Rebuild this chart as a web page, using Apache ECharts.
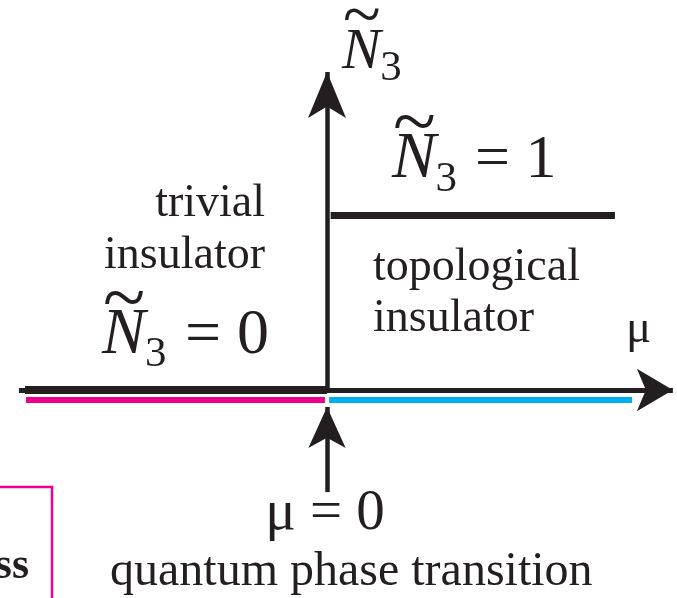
<!DOCTYPE html>
<html>
<head>
<meta charset="utf-8">
<script src="https://cdn.jsdelivr.net/npm/echarts@6/dist/echarts.min.js"></script>
<style>
  html, body { margin: 0; padding: 0; background: #fff; }
  #chart { width: 677px; height: 598px; }
</style>
</head>
<body>
<div id="chart"></div>
<script>
// Phase diagram of the invariant Ñ3 versus chemical potential μ.
// Step function: Ñ3 = 0 for μ < 0 (trivial), Ñ3 = 1 for μ > 0 (topological).
const stepMu   = [[-0.99, 0.0], [0.012, 0.944]];   // μ span of each plateau
const stepN3   = [0, 1];                           // plateau values
// Phase bands drawn just under the μ axis
const bandMu    = [[-0.987, -0.007], [0.007, 1.0]];
const bandNames = ['trivial', 'topological'];
const bandLevel = -0.057;
// Axes and the transition marker (start, arrow tip)
const muAxisSpan     = [-1.01, 1.134];   // along μ at Ñ3 = 0
const n3AxisSpan     = [0, 1.822];       // along Ñ3 at μ = 0
const transitionSpan = [-0.585, -0.097]; // along Ñ3 at μ = 0

const INK = '#231f20';
const MAGENTA = '#ec008c';
const CYAN = '#00aeef';
const SERIF = '"Liberation Serif", "Times New Roman", serif';

const chart = echarts.init(document.getElementById('chart'), null, { renderer: 'canvas' });

function seg(a, b, width, color) {
  return { coords: [a, b], lineStyle: { width: width, color: color, opacity: 1 } };
}
// arrow head only at the end: [start size, [width, length] of end]
function arrowed(item, w, h) {
  item.symbol = ['none', 'arrow'];
  item.symbolSize = [0, [w, h]];
  return item;
}

const option = {
  animation: false,
  backgroundColor: '#fff',
  grid: { left: 0, right: 0, top: 0, bottom: 0 },
  xAxis: { type: 'value', min: -1.0721, max: 1.1475, show: false },
  yAxis: { type: 'value', min: -1.1920, max: 2.2350, show: false },
  series: [
    {
      name: 'phase bands',
      type: 'lines',
      coordinateSystem: 'cartesian2d',
      symbol: 'none',
      lineStyle: { opacity: 1, cap: 'butt' },
      z: 1,
      data: bandMu.map((s, i) => seg([s[0], bandLevel], [s[1], bandLevel], 6, i === 0 ? MAGENTA : CYAN))
    },
    {
      name: 'Ñ3 step',
      type: 'lines',
      coordinateSystem: 'cartesian2d',
      symbol: 'none',
      lineStyle: { opacity: 1 },
      z: 3,
      data: stepMu.map((s, i) => seg([s[0], stepN3[i]], [s[1], stepN3[i]], i === 0 ? 8 : 7, INK))
    },
    {
      name: 'axes',
      type: 'lines',
      coordinateSystem: 'cartesian2d',
      symbol: ['none', 'arrow'],
      lineStyle: { opacity: 1 },
      z: 4,
      data: [
        arrowed(seg([muAxisSpan[0], 0], [muAxisSpan[1], 0], 5, INK), 32, 36),
        arrowed(seg([0, n3AxisSpan[0]], [0, n3AxisSpan[1]], 4.5, INK), 28.5, 46),
        arrowed(seg([0, transitionSpan[0]], [0, transitionSpan[1]], 4.5, INK), 28, 41)
      ]
    }
  ]
};
chart.setOption(option);

// ---- text ----
function txt(x, baseline, str, size, extra) {
  const o = Object.assign({ align: 'left', italic: false, bold: false }, extra || {});
  return {
    type: 'text', x: x, y: baseline - 0.3 * size, z: 10,
    style: {
      text: str,
      font: (o.italic ? 'italic ' : '') + (o.bold ? 'bold ' : '') + size + 'px ' + SERIF,
      fill: INK,
      align: o.align,
      verticalAlign: 'middle'
    }
  };
}

// Ñ with subscript 3, optional "= v" after it; k sets the tilde height above the baseline
function n3Label(x, baseline, size, subSize, k, rest, restX, restSize) {
  const ts = 1.2 * size;
  const els = [
    txt(x, baseline, 'N', size, { italic: true }),
    txt(x + 0.66 * size, baseline + 0.2 * size, '3', subSize),
    txt(x + 0.34 * size, baseline - k * size + 0.39 * ts, '~', ts, { align: 'center' })
  ];
  if (rest) els.push(txt(restX, baseline, rest, restSize));
  return els;
}

const graphics = [].concat(
  n3Label(342, 70, 58, 43, 0.99),
  n3Label(392, 179, 66, 43, 0.91, '= 1', 475, 62),
  n3Label(102, 355, 65, 43, 0.92, '= 0', 185, 64),
  [
    txt(265, 218, 'trivial', 46, { align: 'right' }),
    txt(265, 270, 'insulator', 46, { align: 'right' }),
    txt(373, 282, 'topological', 46),
    txt(373, 333, 'insulator', 46),
    txt(626, 344, 'μ', 47),
    txt(325, 531, 'μ = 0', 57, { align: 'center' }),
    txt(110, 587, 'quantum phase transition', 48),
    txt(29, 580, 'ss', 44, { align: 'right', bold: true }),
    {
      type: 'rect', z: 9,
      shape: { x: -10, y: 487, width: 62, height: 130 },
      style: { fill: 'none', stroke: MAGENTA, lineWidth: 2.5 }
    }
  ]
);
chart.setOption({ graphic: graphics });
</script>
</body>
</html>
